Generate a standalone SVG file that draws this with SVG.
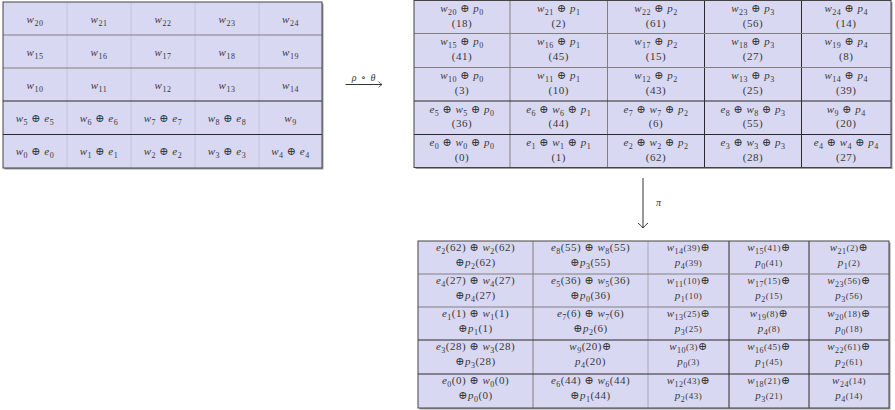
<svg xmlns="http://www.w3.org/2000/svg" width="895" height="410" viewBox="0 0 895 410">
<defs>
<style>
text{font-family:"Liberation Serif","DejaVu Serif",serif;font-size:11px;letter-spacing:0.5px;fill:#383838;text-anchor:middle}
.i{font-style:italic}
.s{font-size:8px}
.m{font-size:9px}
.c{fill:#d8d8f3}
.sh{fill:#9a9a9a}
.o{fill:none;stroke:#444;stroke-width:1}
.ld{stroke:#2a2a2a;stroke-width:1}
.lm{stroke:#808080;stroke-width:1}
.ll{stroke:#c4c4da;stroke-width:1}
.lg{stroke:#a8a8b8;stroke-width:1}
.ar{fill:none;stroke:#333;stroke-width:1}
.lbl{font-size:10px;letter-spacing:1px}
</style>
<marker id="hs" markerUnits="userSpaceOnUse" markerWidth="8" markerHeight="8" refX="0" refY="0" viewBox="-5 -4 6 8" orient="auto"><path d="M-3.5,-2.8 Q-1,-0.6 0,0 Q-1,0.6 -3.5,2.8" fill="none" stroke="#333" stroke-width="0.8"/></marker>
<marker id="hl" markerUnits="userSpaceOnUse" markerWidth="14" markerHeight="14" refX="0" refY="0" viewBox="-7 -7 8 14" orient="auto"><path d="M-5,-5 Q-1.5,-1 0,0 Q-1.5,1 -5,5" fill="none" stroke="#333" stroke-width="1"/></marker>
</defs>

<!-- LEFT GRID -->
<g id="gridA">
<rect class="sh" x="4.5" y="3.5" width="319" height="166"/>
<g id="A-20"><rect class="c" x="3" y="2" width="64" height="33"/><text x="35" y="22.5"><tspan class="i">w</tspan><tspan class="s" dy="3">20</tspan></text></g>
<g id="A-21"><rect class="c" x="67" y="2" width="64" height="33"/><text x="99" y="22.5"><tspan class="i">w</tspan><tspan class="s" dy="3">21</tspan></text></g>
<g id="A-22"><rect class="c" x="131" y="2" width="64" height="33"/><text x="163" y="22.5"><tspan class="i">w</tspan><tspan class="s" dy="3">22</tspan></text></g>
<g id="A-23"><rect class="c" x="195" y="2" width="64" height="33"/><text x="227" y="22.5"><tspan class="i">w</tspan><tspan class="s" dy="3">23</tspan></text></g>
<g id="A-24"><rect class="c" x="259" y="2" width="63" height="33"/><text x="290.5" y="22.5"><tspan class="i">w</tspan><tspan class="s" dy="3">24</tspan></text></g>

<g id="A-15"><rect class="c" x="3" y="35" width="64" height="33"/><text x="35" y="55.5"><tspan class="i">w</tspan><tspan class="s" dy="3">15</tspan></text></g>
<g id="A-16"><rect class="c" x="67" y="35" width="64" height="33"/><text x="99" y="55.5"><tspan class="i">w</tspan><tspan class="s" dy="3">16</tspan></text></g>
<g id="A-17"><rect class="c" x="131" y="35" width="64" height="33"/><text x="163" y="55.5"><tspan class="i">w</tspan><tspan class="s" dy="3">17</tspan></text></g>
<g id="A-18"><rect class="c" x="195" y="35" width="64" height="33"/><text x="227" y="55.5"><tspan class="i">w</tspan><tspan class="s" dy="3">18</tspan></text></g>
<g id="A-19"><rect class="c" x="259" y="35" width="63" height="33"/><text x="290.5" y="55.5"><tspan class="i">w</tspan><tspan class="s" dy="3">19</tspan></text></g>

<g id="A-10"><rect class="c" x="3" y="68" width="64" height="33"/><text x="35" y="88.5"><tspan class="i">w</tspan><tspan class="s" dy="3">10</tspan></text></g>
<g id="A-11"><rect class="c" x="67" y="68" width="64" height="33"/><text x="99" y="88.5"><tspan class="i">w</tspan><tspan class="s" dy="3">11</tspan></text></g>
<g id="A-12"><rect class="c" x="131" y="68" width="64" height="33"/><text x="163" y="88.5"><tspan class="i">w</tspan><tspan class="s" dy="3">12</tspan></text></g>
<g id="A-13"><rect class="c" x="195" y="68" width="64" height="33"/><text x="227" y="88.5"><tspan class="i">w</tspan><tspan class="s" dy="3">13</tspan></text></g>
<g id="A-14"><rect class="c" x="259" y="68" width="63" height="33"/><text x="290.5" y="88.5"><tspan class="i">w</tspan><tspan class="s" dy="3">14</tspan></text></g>

<g id="A-5"><rect class="c" x="3" y="101" width="64" height="33.5"/><text x="35" y="121.5"><tspan class="i">w</tspan><tspan class="s" dy="3">5</tspan><tspan dy="-3"> ⊕ </tspan><tspan class="i">e</tspan><tspan class="s" dy="3">5</tspan></text></g>
<g id="A-6"><rect class="c" x="67" y="101" width="64" height="33.5"/><text x="99" y="121.5"><tspan class="i">w</tspan><tspan class="s" dy="3">6</tspan><tspan dy="-3"> ⊕ </tspan><tspan class="i">e</tspan><tspan class="s" dy="3">6</tspan></text></g>
<g id="A-7"><rect class="c" x="131" y="101" width="64" height="33.5"/><text x="163" y="121.5"><tspan class="i">w</tspan><tspan class="s" dy="3">7</tspan><tspan dy="-3"> ⊕ </tspan><tspan class="i">e</tspan><tspan class="s" dy="3">7</tspan></text></g>
<g id="A-8"><rect class="c" x="195" y="101" width="64" height="33.5"/><text x="227" y="121.5"><tspan class="i">w</tspan><tspan class="s" dy="3">8</tspan><tspan dy="-3"> ⊕ </tspan><tspan class="i">e</tspan><tspan class="s" dy="3">8</tspan></text></g>
<g id="A-9"><rect class="c" x="259" y="101" width="63" height="33.5"/><text x="290.5" y="121.5"><tspan class="i">w</tspan><tspan class="s" dy="3">9</tspan></text></g>

<g id="A-0"><rect class="c" x="3" y="134.5" width="64" height="33.5"/><text x="35" y="155"><tspan class="i">w</tspan><tspan class="s" dy="3">0</tspan><tspan dy="-3"> ⊕ </tspan><tspan class="i">e</tspan><tspan class="s" dy="3">0</tspan></text></g>
<g id="A-1"><rect class="c" x="67" y="134.5" width="64" height="33.5"/><text x="99" y="155"><tspan class="i">w</tspan><tspan class="s" dy="3">1</tspan><tspan dy="-3"> ⊕ </tspan><tspan class="i">e</tspan><tspan class="s" dy="3">1</tspan></text></g>
<g id="A-2"><rect class="c" x="131" y="134.5" width="64" height="33.5"/><text x="163" y="155"><tspan class="i">w</tspan><tspan class="s" dy="3">2</tspan><tspan dy="-3"> ⊕ </tspan><tspan class="i">e</tspan><tspan class="s" dy="3">2</tspan></text></g>
<g id="A-3"><rect class="c" x="195" y="134.5" width="64" height="33.5"/><text x="227" y="155"><tspan class="i">w</tspan><tspan class="s" dy="3">3</tspan><tspan dy="-3"> ⊕ </tspan><tspan class="i">e</tspan><tspan class="s" dy="3">3</tspan></text></g>
<g id="A-4"><rect class="c" x="259" y="134.5" width="63" height="33.5"/><text x="290.5" y="155"><tspan class="i">w</tspan><tspan class="s" dy="3">4</tspan><tspan dy="-3"> ⊕ </tspan><tspan class="i">e</tspan><tspan class="s" dy="3">4</tspan></text></g>

<line class="ll" x1="67" y1="2" x2="67" y2="168"/>
<line class="ll" x1="131" y1="2" x2="131" y2="168"/>
<line class="ll" x1="195" y1="2" x2="195" y2="168"/>
<line class="ll" x1="259" y1="2" x2="259" y2="168"/>
<line class="lm" x1="3" y1="35" x2="322" y2="35"/>
<line class="lm" x1="3" y1="68" x2="322" y2="68"/>
<line class="ld" x1="3" y1="101" x2="322" y2="101"/>
<line class="ld" x1="3" y1="134.5" x2="322" y2="134.5"/>
<rect class="o" x="3" y="2" width="319" height="166"/>
</g>

<!-- TOP RIGHT GRID -->
<g id="gridB">
<rect class="sh" x="415.5" y="2" width="477" height="167"/>
<g id="B-20"><rect class="c" x="414" y="0.5" width="96" height="33"/><text x="462" y="12"><tspan class="i">w</tspan><tspan class="s" dy="3">20</tspan><tspan dy="-3"> ⊕ </tspan><tspan class="i">p</tspan><tspan class="s" dy="3">0</tspan></text><text x="462" y="26.5">(18)</text></g>
<g id="B-21"><rect class="c" x="510" y="0.5" width="97.5" height="33"/><text x="558.75" y="12"><tspan class="i">w</tspan><tspan class="s" dy="3">21</tspan><tspan dy="-3"> ⊕ </tspan><tspan class="i">p</tspan><tspan class="s" dy="3">1</tspan></text><text x="558.75" y="26.5">(2)</text></g>
<g id="B-22"><rect class="c" x="607.5" y="0.5" width="97" height="33"/><text x="656" y="12"><tspan class="i">w</tspan><tspan class="s" dy="3">22</tspan><tspan dy="-3"> ⊕ </tspan><tspan class="i">p</tspan><tspan class="s" dy="3">2</tspan></text><text x="656" y="26.5">(61)</text></g>
<g id="B-23"><rect class="c" x="704.5" y="0.5" width="97" height="33"/><text x="753" y="12"><tspan class="i">w</tspan><tspan class="s" dy="3">23</tspan><tspan dy="-3"> ⊕ </tspan><tspan class="i">p</tspan><tspan class="s" dy="3">3</tspan></text><text x="753" y="26.5">(56)</text></g>
<g id="B-24"><rect class="c" x="801.5" y="0.5" width="89.5" height="33"/><text x="846.25" y="12"><tspan class="i">w</tspan><tspan class="s" dy="3">24</tspan><tspan dy="-3"> ⊕ </tspan><tspan class="i">p</tspan><tspan class="s" dy="3">4</tspan></text><text x="846.25" y="26.5">(14)</text></g>

<g id="B-15"><rect class="c" x="414" y="33.5" width="96" height="34"/><text x="462" y="45"><tspan class="i">w</tspan><tspan class="s" dy="3">15</tspan><tspan dy="-3"> ⊕ </tspan><tspan class="i">p</tspan><tspan class="s" dy="3">0</tspan></text><text x="462" y="59.5">(41)</text></g>
<g id="B-16"><rect class="c" x="510" y="33.5" width="97.5" height="34"/><text x="558.75" y="45"><tspan class="i">w</tspan><tspan class="s" dy="3">16</tspan><tspan dy="-3"> ⊕ </tspan><tspan class="i">p</tspan><tspan class="s" dy="3">1</tspan></text><text x="558.75" y="59.5">(45)</text></g>
<g id="B-17"><rect class="c" x="607.5" y="33.5" width="97" height="34"/><text x="656" y="45"><tspan class="i">w</tspan><tspan class="s" dy="3">17</tspan><tspan dy="-3"> ⊕ </tspan><tspan class="i">p</tspan><tspan class="s" dy="3">2</tspan></text><text x="656" y="59.5">(15)</text></g>
<g id="B-18"><rect class="c" x="704.5" y="33.5" width="97" height="34"/><text x="753" y="45"><tspan class="i">w</tspan><tspan class="s" dy="3">18</tspan><tspan dy="-3"> ⊕ </tspan><tspan class="i">p</tspan><tspan class="s" dy="3">3</tspan></text><text x="753" y="59.5">(27)</text></g>
<g id="B-19"><rect class="c" x="801.5" y="33.5" width="89.5" height="34"/><text x="846.25" y="45"><tspan class="i">w</tspan><tspan class="s" dy="3">19</tspan><tspan dy="-3"> ⊕ </tspan><tspan class="i">p</tspan><tspan class="s" dy="3">4</tspan></text><text x="846.25" y="59.5">(8)</text></g>

<g id="B-10"><rect class="c" x="414" y="67.5" width="96" height="33.5"/><text x="462" y="79"><tspan class="i">w</tspan><tspan class="s" dy="3">10</tspan><tspan dy="-3"> ⊕ </tspan><tspan class="i">p</tspan><tspan class="s" dy="3">0</tspan></text><text x="462" y="93.5">(3)</text></g>
<g id="B-11"><rect class="c" x="510" y="67.5" width="97.5" height="33.5"/><text x="558.75" y="79"><tspan class="i">w</tspan><tspan class="s" dy="3">11</tspan><tspan dy="-3"> ⊕ </tspan><tspan class="i">p</tspan><tspan class="s" dy="3">1</tspan></text><text x="558.75" y="93.5">(10)</text></g>
<g id="B-12"><rect class="c" x="607.5" y="67.5" width="97" height="33.5"/><text x="656" y="79"><tspan class="i">w</tspan><tspan class="s" dy="3">12</tspan><tspan dy="-3"> ⊕ </tspan><tspan class="i">p</tspan><tspan class="s" dy="3">2</tspan></text><text x="656" y="93.5">(43)</text></g>
<g id="B-13"><rect class="c" x="704.5" y="67.5" width="97" height="33.5"/><text x="753" y="79"><tspan class="i">w</tspan><tspan class="s" dy="3">13</tspan><tspan dy="-3"> ⊕ </tspan><tspan class="i">p</tspan><tspan class="s" dy="3">3</tspan></text><text x="753" y="93.5">(25)</text></g>
<g id="B-14"><rect class="c" x="801.5" y="67.5" width="89.5" height="33.5"/><text x="846.25" y="79"><tspan class="i">w</tspan><tspan class="s" dy="3">14</tspan><tspan dy="-3"> ⊕ </tspan><tspan class="i">p</tspan><tspan class="s" dy="3">4</tspan></text><text x="846.25" y="93.5">(39)</text></g>

<g id="B-5"><rect class="c" x="414" y="101" width="96" height="33.5"/><text x="462" y="112.5"><tspan class="i">e</tspan><tspan class="s" dy="3">5</tspan><tspan dy="-3"> ⊕ </tspan><tspan class="i">w</tspan><tspan class="s" dy="3">5</tspan><tspan dy="-3"> ⊕ </tspan><tspan class="i">p</tspan><tspan class="s" dy="3">0</tspan></text><text x="462" y="127">(36)</text></g>
<g id="B-6"><rect class="c" x="510" y="101" width="97.5" height="33.5"/><text x="558.75" y="112.5"><tspan class="i">e</tspan><tspan class="s" dy="3">6</tspan><tspan dy="-3"> ⊕ </tspan><tspan class="i">w</tspan><tspan class="s" dy="3">6</tspan><tspan dy="-3"> ⊕ </tspan><tspan class="i">p</tspan><tspan class="s" dy="3">1</tspan></text><text x="558.75" y="127">(44)</text></g>
<g id="B-7"><rect class="c" x="607.5" y="101" width="97" height="33.5"/><text x="656" y="112.5"><tspan class="i">e</tspan><tspan class="s" dy="3">7</tspan><tspan dy="-3"> ⊕ </tspan><tspan class="i">w</tspan><tspan class="s" dy="3">7</tspan><tspan dy="-3"> ⊕ </tspan><tspan class="i">p</tspan><tspan class="s" dy="3">2</tspan></text><text x="656" y="127">(6)</text></g>
<g id="B-8"><rect class="c" x="704.5" y="101" width="97" height="33.5"/><text x="753" y="112.5"><tspan class="i">e</tspan><tspan class="s" dy="3">8</tspan><tspan dy="-3"> ⊕ </tspan><tspan class="i">w</tspan><tspan class="s" dy="3">8</tspan><tspan dy="-3"> ⊕ </tspan><tspan class="i">p</tspan><tspan class="s" dy="3">3</tspan></text><text x="753" y="127">(55)</text></g>
<g id="B-9"><rect class="c" x="801.5" y="101" width="89.5" height="33.5"/><text x="846.25" y="112.5"><tspan class="i">w</tspan><tspan class="s" dy="3">9</tspan><tspan dy="-3"> ⊕ </tspan><tspan class="i">p</tspan><tspan class="s" dy="3">4</tspan></text><text x="846.25" y="127">(20)</text></g>

<g id="B-0"><rect class="c" x="414" y="134.5" width="96" height="33"/><text x="462" y="146"><tspan class="i">e</tspan><tspan class="s" dy="3">0</tspan><tspan dy="-3"> ⊕ </tspan><tspan class="i">w</tspan><tspan class="s" dy="3">0</tspan><tspan dy="-3"> ⊕ </tspan><tspan class="i">p</tspan><tspan class="s" dy="3">0</tspan></text><text x="462" y="160.5">(0)</text></g>
<g id="B-1"><rect class="c" x="510" y="134.5" width="97.5" height="33"/><text x="558.75" y="146"><tspan class="i">e</tspan><tspan class="s" dy="3">1</tspan><tspan dy="-3"> ⊕ </tspan><tspan class="i">w</tspan><tspan class="s" dy="3">1</tspan><tspan dy="-3"> ⊕ </tspan><tspan class="i">p</tspan><tspan class="s" dy="3">1</tspan></text><text x="558.75" y="160.5">(1)</text></g>
<g id="B-2"><rect class="c" x="607.5" y="134.5" width="97" height="33"/><text x="656" y="146"><tspan class="i">e</tspan><tspan class="s" dy="3">2</tspan><tspan dy="-3"> ⊕ </tspan><tspan class="i">w</tspan><tspan class="s" dy="3">2</tspan><tspan dy="-3"> ⊕ </tspan><tspan class="i">p</tspan><tspan class="s" dy="3">2</tspan></text><text x="656" y="160.5">(62)</text></g>
<g id="B-3"><rect class="c" x="704.5" y="134.5" width="97" height="33"/><text x="753" y="146"><tspan class="i">e</tspan><tspan class="s" dy="3">3</tspan><tspan dy="-3"> ⊕ </tspan><tspan class="i">w</tspan><tspan class="s" dy="3">3</tspan><tspan dy="-3"> ⊕ </tspan><tspan class="i">p</tspan><tspan class="s" dy="3">3</tspan></text><text x="753" y="160.5">(28)</text></g>
<g id="B-4"><rect class="c" x="801.5" y="134.5" width="89.5" height="33"/><text x="846.25" y="146"><tspan class="i">e</tspan><tspan class="s" dy="3">4</tspan><tspan dy="-3"> ⊕ </tspan><tspan class="i">w</tspan><tspan class="s" dy="3">4</tspan><tspan dy="-3"> ⊕ </tspan><tspan class="i">p</tspan><tspan class="s" dy="3">4</tspan></text><text x="846.25" y="160.5">(27)</text></g>

<line class="lm" x1="510" y1="0.5" x2="510" y2="167.5"/>
<line class="lm" x1="607.5" y1="0.5" x2="607.5" y2="167.5"/>
<line class="ld" x1="704.5" y1="0.5" x2="704.5" y2="167.5"/>
<line class="ld" x1="801.5" y1="0.5" x2="801.5" y2="167.5"/>
<line class="lm" x1="414" y1="33.5" x2="891" y2="33.5"/>
<line class="lm" x1="414" y1="67.5" x2="891" y2="67.5"/>
<line class="ld" x1="414" y1="101" x2="891" y2="101"/>
<line class="ld" x1="414" y1="134.5" x2="891" y2="134.5"/>
<rect class="o" x="414" y="0.5" width="477" height="167"/>
</g>

<!-- BOTTOM GRID -->
<g id="gridC">
<rect class="sh" x="419.5" y="242.5" width="471" height="167"/>
<g id="C-0-0"><rect class="c" x="418" y="241" width="115" height="33"/><text x="475.5" y="250.5"><tspan class="i">e</tspan><tspan class="s" dy="3">2</tspan><tspan dy="-3">(62) ⊕ </tspan><tspan class="i">w</tspan><tspan class="s" dy="3">2</tspan><tspan dy="-3">(62)</tspan></text><text x="475.5" y="266">⊕<tspan class="i">p</tspan><tspan class="s" dy="3">2</tspan><tspan dy="-3">(62)</tspan></text></g>
<g id="C-0-1"><rect class="c" x="533" y="241" width="115" height="33"/><text x="590.5" y="250.5"><tspan class="i">e</tspan><tspan class="s" dy="3">8</tspan><tspan dy="-3">(55) ⊕ </tspan><tspan class="i">w</tspan><tspan class="s" dy="3">8</tspan><tspan dy="-3">(55)</tspan></text><text x="590.5" y="266">⊕<tspan class="i">p</tspan><tspan class="s" dy="3">3</tspan><tspan dy="-3">(55)</tspan></text></g>
<g id="C-0-2"><rect class="c" x="648" y="241" width="81" height="33"/><text x="688.5" y="250.5"><tspan class="i">w</tspan><tspan class="s" dy="3">14</tspan><tspan class="m" dy="-3">(39)</tspan>⊕</text><text x="688.5" y="266"><tspan class="i">p</tspan><tspan class="s" dy="3">4</tspan><tspan class="m" dy="-3">(39)</tspan></text></g>
<g id="C-0-3"><rect class="c" x="729" y="241" width="80" height="33"/><text x="769" y="250.5"><tspan class="i">w</tspan><tspan class="s" dy="3">15</tspan><tspan class="m" dy="-3">(41)</tspan>⊕</text><text x="769" y="266"><tspan class="i">p</tspan><tspan class="s" dy="3">0</tspan><tspan class="m" dy="-3">(41)</tspan></text></g>
<g id="C-0-4"><rect class="c" x="809" y="241" width="80" height="33"/><text x="849" y="250.5"><tspan class="i">w</tspan><tspan class="s" dy="3">21</tspan><tspan class="m" dy="-3">(2)</tspan>⊕</text><text x="849" y="266"><tspan class="i">p</tspan><tspan class="s" dy="3">1</tspan><tspan class="m" dy="-3">(2)</tspan></text></g>

<g id="C-1-0"><rect class="c" x="418" y="274" width="115" height="33"/><text x="475.5" y="283.5"><tspan class="i">e</tspan><tspan class="s" dy="3">4</tspan><tspan dy="-3">(27) ⊕ </tspan><tspan class="i">w</tspan><tspan class="s" dy="3">4</tspan><tspan dy="-3">(27)</tspan></text><text x="475.5" y="299">⊕<tspan class="i">p</tspan><tspan class="s" dy="3">4</tspan><tspan dy="-3">(27)</tspan></text></g>
<g id="C-1-1"><rect class="c" x="533" y="274" width="115" height="33"/><text x="590.5" y="283.5"><tspan class="i">e</tspan><tspan class="s" dy="3">5</tspan><tspan dy="-3">(36) ⊕ </tspan><tspan class="i">w</tspan><tspan class="s" dy="3">5</tspan><tspan dy="-3">(36)</tspan></text><text x="590.5" y="299">⊕<tspan class="i">p</tspan><tspan class="s" dy="3">0</tspan><tspan dy="-3">(36)</tspan></text></g>
<g id="C-1-2"><rect class="c" x="648" y="274" width="81" height="33"/><text x="688.5" y="283.5"><tspan class="i">w</tspan><tspan class="s" dy="3">11</tspan><tspan class="m" dy="-3">(10)</tspan>⊕</text><text x="688.5" y="299"><tspan class="i">p</tspan><tspan class="s" dy="3">1</tspan><tspan class="m" dy="-3">(10)</tspan></text></g>
<g id="C-1-3"><rect class="c" x="729" y="274" width="80" height="33"/><text x="769" y="283.5"><tspan class="i">w</tspan><tspan class="s" dy="3">17</tspan><tspan class="m" dy="-3">(15)</tspan>⊕</text><text x="769" y="299"><tspan class="i">p</tspan><tspan class="s" dy="3">2</tspan><tspan class="m" dy="-3">(15)</tspan></text></g>
<g id="C-1-4"><rect class="c" x="809" y="274" width="80" height="33"/><text x="849" y="283.5"><tspan class="i">w</tspan><tspan class="s" dy="3">23</tspan><tspan class="m" dy="-3">(56)</tspan>⊕</text><text x="849" y="299"><tspan class="i">p</tspan><tspan class="s" dy="3">3</tspan><tspan class="m" dy="-3">(56)</tspan></text></g>

<g id="C-2-0"><rect class="c" x="418" y="307" width="115" height="33"/><text x="475.5" y="316.5"><tspan class="i">e</tspan><tspan class="s" dy="3">1</tspan><tspan dy="-3">(1) ⊕ </tspan><tspan class="i">w</tspan><tspan class="s" dy="3">1</tspan><tspan dy="-3">(1)</tspan></text><text x="475.5" y="332">⊕<tspan class="i">p</tspan><tspan class="s" dy="3">1</tspan><tspan dy="-3">(1)</tspan></text></g>
<g id="C-2-1"><rect class="c" x="533" y="307" width="115" height="33"/><text x="590.5" y="316.5"><tspan class="i">e</tspan><tspan class="s" dy="3">7</tspan><tspan dy="-3">(6) ⊕ </tspan><tspan class="i">w</tspan><tspan class="s" dy="3">7</tspan><tspan dy="-3">(6)</tspan></text><text x="590.5" y="332">⊕<tspan class="i">p</tspan><tspan class="s" dy="3">2</tspan><tspan dy="-3">(6)</tspan></text></g>
<g id="C-2-2"><rect class="c" x="648" y="307" width="81" height="33"/><text x="688.5" y="316.5"><tspan class="i">w</tspan><tspan class="s" dy="3">13</tspan><tspan class="m" dy="-3">(25)</tspan>⊕</text><text x="688.5" y="332"><tspan class="i">p</tspan><tspan class="s" dy="3">3</tspan><tspan class="m" dy="-3">(25)</tspan></text></g>
<g id="C-2-3"><rect class="c" x="729" y="307" width="80" height="33"/><text x="769" y="316.5"><tspan class="i">w</tspan><tspan class="s" dy="3">19</tspan><tspan class="m" dy="-3">(8)</tspan>⊕</text><text x="769" y="332"><tspan class="i">p</tspan><tspan class="s" dy="3">4</tspan><tspan class="m" dy="-3">(8)</tspan></text></g>
<g id="C-2-4"><rect class="c" x="809" y="307" width="80" height="33"/><text x="849" y="316.5"><tspan class="i">w</tspan><tspan class="s" dy="3">20</tspan><tspan class="m" dy="-3">(18)</tspan>⊕</text><text x="849" y="332"><tspan class="i">p</tspan><tspan class="s" dy="3">0</tspan><tspan class="m" dy="-3">(18)</tspan></text></g>

<g id="C-3-0"><rect class="c" x="418" y="340" width="115" height="34"/><text x="475.5" y="349.5"><tspan class="i">e</tspan><tspan class="s" dy="3">3</tspan><tspan dy="-3">(28) ⊕ </tspan><tspan class="i">w</tspan><tspan class="s" dy="3">3</tspan><tspan dy="-3">(28)</tspan></text><text x="475.5" y="365">⊕<tspan class="i">p</tspan><tspan class="s" dy="3">3</tspan><tspan dy="-3">(28)</tspan></text></g>
<g id="C-3-1"><rect class="c" x="533" y="340" width="115" height="34"/><text x="590.5" y="349.5"><tspan class="i">w</tspan><tspan class="s" dy="3">9</tspan><tspan dy="-3">(20)⊕</tspan></text><text x="590.5" y="365"><tspan class="i">p</tspan><tspan class="s" dy="3">4</tspan><tspan dy="-3">(20)</tspan></text></g>
<g id="C-3-2"><rect class="c" x="648" y="340" width="81" height="34"/><text x="688.5" y="349.5"><tspan class="i">w</tspan><tspan class="s" dy="3">10</tspan><tspan class="m" dy="-3">(3)</tspan>⊕</text><text x="688.5" y="365"><tspan class="i">p</tspan><tspan class="s" dy="3">0</tspan><tspan class="m" dy="-3">(3)</tspan></text></g>
<g id="C-3-3"><rect class="c" x="729" y="340" width="80" height="34"/><text x="769" y="349.5"><tspan class="i">w</tspan><tspan class="s" dy="3">16</tspan><tspan class="m" dy="-3">(45)</tspan>⊕</text><text x="769" y="365"><tspan class="i">p</tspan><tspan class="s" dy="3">1</tspan><tspan class="m" dy="-3">(45)</tspan></text></g>
<g id="C-3-4"><rect class="c" x="809" y="340" width="80" height="34"/><text x="849" y="349.5"><tspan class="i">w</tspan><tspan class="s" dy="3">22</tspan><tspan class="m" dy="-3">(61)</tspan>⊕</text><text x="849" y="365"><tspan class="i">p</tspan><tspan class="s" dy="3">2</tspan><tspan class="m" dy="-3">(61)</tspan></text></g>

<g id="C-4-0"><rect class="c" x="418" y="374" width="115" height="34"/><text x="475.5" y="383.5"><tspan class="i">e</tspan><tspan class="s" dy="3">0</tspan><tspan dy="-3">(0) ⊕ </tspan><tspan class="i">w</tspan><tspan class="s" dy="3">0</tspan><tspan dy="-3">(0)</tspan></text><text x="475.5" y="399">⊕<tspan class="i">p</tspan><tspan class="s" dy="3">0</tspan><tspan dy="-3">(0)</tspan></text></g>
<g id="C-4-1"><rect class="c" x="533" y="374" width="115" height="34"/><text x="590.5" y="383.5"><tspan class="i">e</tspan><tspan class="s" dy="3">6</tspan><tspan dy="-3">(44) ⊕ </tspan><tspan class="i">w</tspan><tspan class="s" dy="3">6</tspan><tspan dy="-3">(44)</tspan></text><text x="590.5" y="399">⊕<tspan class="i">p</tspan><tspan class="s" dy="3">1</tspan><tspan dy="-3">(44)</tspan></text></g>
<g id="C-4-2"><rect class="c" x="648" y="374" width="81" height="34"/><text x="688.5" y="383.5"><tspan class="i">w</tspan><tspan class="s" dy="3">12</tspan><tspan class="m" dy="-3">(43)</tspan>⊕</text><text x="688.5" y="399"><tspan class="i">p</tspan><tspan class="s" dy="3">2</tspan><tspan class="m" dy="-3">(43)</tspan></text></g>
<g id="C-4-3"><rect class="c" x="729" y="374" width="80" height="34"/><text x="769" y="383.5"><tspan class="i">w</tspan><tspan class="s" dy="3">18</tspan><tspan class="m" dy="-3">(21)</tspan>⊕</text><text x="769" y="399"><tspan class="i">p</tspan><tspan class="s" dy="3">3</tspan><tspan class="m" dy="-3">(21)</tspan></text></g>
<g id="C-4-4"><rect class="c" x="809" y="374" width="80" height="34"/><text x="849" y="383.5"><tspan class="i">w</tspan><tspan class="s" dy="3">24</tspan><tspan class="m" dy="-3">(14)</tspan></text><text x="849" y="399"><tspan class="i">p</tspan><tspan class="s" dy="3">4</tspan><tspan class="m" dy="-3">(14)</tspan></text></g>

<line class="lm" x1="533" y1="241" x2="533" y2="408"/>
<line class="lg" x1="648" y1="241" x2="648" y2="408"/>
<line class="ld" x1="729" y1="241" x2="729" y2="408"/>
<line class="ld" x1="809" y1="241" x2="809" y2="408"/>
<line class="lm" x1="418" y1="274" x2="889" y2="274"/>
<line class="lm" x1="418" y1="307" x2="889" y2="307"/>
<line class="ld" x1="418" y1="340" x2="889" y2="340"/>
<line class="ld" x1="418" y1="374" x2="889" y2="374"/>
<rect class="o" x="418" y="241" width="471" height="167"/>
</g>

<!-- CONNECTORS -->
<g id="connectors">
<line class="ar" x1="345.5" y1="84.5" x2="382" y2="84.5" marker-end="url(#hs)"/>
<text class="lbl" x="364" y="80.5"><tspan class="i">ρ</tspan> ∘ <tspan class="i">θ</tspan></text>
<line class="ar" x1="643" y1="178" x2="643" y2="228" marker-end="url(#hl)"/>
<text class="lbl i" x="659" y="206">π</text>
</g>
</svg>
